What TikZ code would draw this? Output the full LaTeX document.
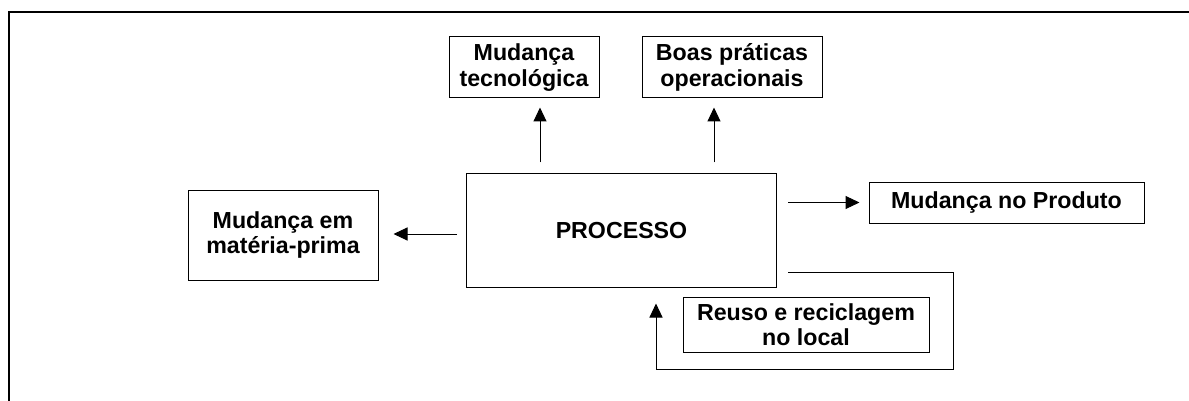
\documentclass[tikz,border=0pt]{standalone}
\usepackage{fontspec}
\setmainfont{Liberation Sans}
\usetikzlibrary{arrows.meta}

\begin{document}
\begin{tikzpicture}[x=0.5pt,y=-0.5pt,
		box/.style={draw,line width=0.5pt,align=center,inner sep=0pt,font=\bfseries\fontsize{11.6}{12.6}\selectfont},
		arr/.style={line width=0.5pt,-{Triangle[length=7pt,width=6.5pt]}}]
			\useasboundingbox (0,0) rectangle (1189,401);
			\draw[line width=1pt] (9,401) |- (1189,12);
			% boxes
			\node[box,minimum width=155pt,minimum height=56.5pt] (proc) at (621.5,230.5) {PROCESSO};
			\node[box,minimum width=75pt,minimum height=30.5pt] (tec) at (524,67.5) {Mudança\\tecnológica};
			\node[box,minimum width=90pt,minimum height=30.5pt] (boas) at (732,67.5) {Boas práticas\\operacionais};
			\node[box,minimum width=95pt,minimum height=45pt] (prima) at (283,235) {Mudança em\\matéria-prima};
			\node[box,minimum width=137.5pt,minimum height=20.5pt] (prod) at (1006.5,202.5) {Mudança no Produto};
			\node[box,minimum width=123pt,minimum height=27.5pt] (reuso) at (806,324.5) {Reuso e reciclagem\\no local};
			% rails
			\coordinate (xtec) at (540,0);
			\coordinate (xboas) at (714,0);
			\coordinate (yprima) at (0,234);
			\coordinate (yloop) at (0,272);
			\coordinate (xback) at (656,0);
			\coordinate (corner) at (953,369);
			% arrows
			\draw[arr,shorten <=5.5pt,shorten >=4.5pt] (proc.north -| xtec) -- (tec.south -| xtec);
			\draw[arr,shorten <=5.5pt,shorten >=4.5pt] (proc.north -| xboas) -- (boas.south -| xboas);
			\draw[arr,shorten <=4.5pt,shorten >=7.5pt] (proc.west |- yprima) -- (prima.east |- yprima);
			\draw[arr,shorten <=5.5pt,shorten >=4.5pt] (proc.east |- prod.west) -- (prod.west);
			\draw[arr,shorten <=5.5pt,shorten >=8pt] (proc.east |- yloop) -| (corner) -| (proc.south -| xback);
		\end{tikzpicture}
\end{document}
